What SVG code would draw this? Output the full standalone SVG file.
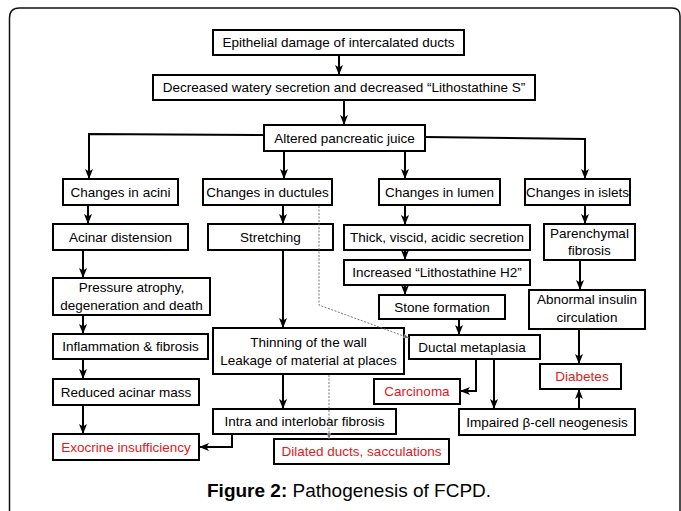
<svg xmlns="http://www.w3.org/2000/svg" width="681" height="511" viewBox="0 0 681 511">
<defs>
<style>
.b{fill:#fff;stroke:#000;stroke-width:2}
.t{font-family:"Liberation Sans",Arial,sans-serif;font-size:13.5px;fill:#000;text-anchor:middle}
.r{fill:#e0191e}
.c{fill:none;stroke:#000;stroke-width:2}
.d{fill:none;stroke:#777;stroke-width:1;stroke-dasharray:2 1.5}
.cap{font-family:"Liberation Sans",Arial,sans-serif;font-size:19px;fill:#000}
</style>
<marker id="ah" markerUnits="userSpaceOnUse" markerWidth="10" markerHeight="10" viewBox="0 0 10 10" refX="10" refY="5" orient="auto">
<path d="M0,1 L10,5 L0,9 L2.5,5 Z" fill="#000"/>
</marker>
<marker id="ag" markerUnits="userSpaceOnUse" markerWidth="6" markerHeight="6" viewBox="0 0 10 10" refX="10" refY="5" orient="auto">
<path d="M0,1 L10,5 L0,9 Z" fill="#777"/>
</marker>
</defs>
<rect width="681" height="511" fill="#fff"/>
<path d="M9.5,511 V18 Q9.5,8 19.5,8 H672 Q680,8 680,16 V511" fill="none" stroke="#111" stroke-width="1.5"/>

<g id="n1"><rect class="b" x="213" y="30" width="251" height="25"/><text class="t" x="338.5" y="47">Epithelial damage of intercalated ducts</text></g>
<g id="n2"><rect class="b" x="153" y="75" width="382" height="25"/><text class="t" x="344" y="92">Decreased watery secretion and decreased “Lithostathine S”</text></g>
<g id="n3"><rect class="b" x="264" y="125" width="161" height="26"/><text class="t" x="344.5" y="143">Altered pancreatic juice</text></g>
<g id="n4"><rect class="b" x="63" y="179" width="115" height="26"/><text class="t" x="120.5" y="197">Changes in acini</text></g>
<g id="n5"><rect class="b" x="203" y="179" width="129" height="26"/><text class="t" x="267.5" y="197">Changes in ductules</text></g>
<g id="n6"><rect class="b" x="379" y="179" width="121" height="26"/><text class="t" x="439.5" y="197">Changes in lumen</text></g>
<g id="n7"><rect class="b" x="525" y="179" width="105" height="26"/><text class="t" x="577.5" y="197">Changes in islets</text></g>
<g id="n8"><rect class="b" x="53" y="224" width="135" height="26"/><text class="t" x="120.5" y="242">Acinar distension</text></g>
<g id="n9"><rect class="b" x="208" y="224" width="125" height="26"/><text class="t" x="270.5" y="242">Stretching</text></g>
<g id="n10"><rect class="b" x="344" y="225" width="186" height="25"/><text class="t" x="437" y="242">Thick, viscid, acidic secretion</text></g>
<g id="n11"><rect class="b" x="544" y="224" width="91" height="36"/><text class="t" x="589.5" y="238">Parenchymal</text><text class="t" x="589.5" y="255">fibrosis</text></g>
<g id="n12"><rect class="b" x="53" y="278" width="157" height="37"/><text class="t" x="131.5" y="292">Pressure atrophy,</text><text class="t" x="131.5" y="310">degeneration and death</text></g>
<g id="n13"><rect class="b" x="344" y="260" width="186" height="25"/><text class="t" x="437" y="277">Increased “Lithostathine H2”</text></g>
<g id="n14"><rect class="b" x="379" y="295" width="126" height="24"/><text class="t" x="442" y="312">Stone formation</text></g>
<g id="n15"><rect class="b" x="529" y="290" width="116" height="39"/><text class="t" x="587" y="304">Abnormal insulin</text><text class="t" x="587" y="322">circulation</text></g>
<g id="n16"><rect class="b" x="53" y="334" width="155" height="25"/><text class="t" x="130.5" y="351">Inflammation &amp; fibrosis</text></g>
<g id="n17"><rect class="b" x="213" y="328" width="191" height="46"/><text class="t" x="308.5" y="347">Thinning of the wall</text><text class="t" x="308.5" y="365">Leakage of material at places</text></g>
<g id="n18"><rect class="b" x="409" y="335" width="131" height="24"/><text class="t" x="472" y="352">Ductal metaplasia</text></g>
<g id="n19"><rect class="b" x="540" y="364" width="81" height="25"/><text class="t r" x="582" y="381">Diabetes</text></g>
<g id="n20"><rect class="b" x="53" y="379" width="146" height="26"/><text class="t" x="126" y="397">Reduced acinar mass</text></g>
<g id="n21"><rect class="b" x="374" y="379" width="86" height="25"/><text class="t r" x="417" y="396">Carcinoma</text></g>
<g id="n22"><rect class="b" x="213" y="409" width="183" height="25"/><text class="t" x="304.5" y="426">Intra and interlobar fibrosis</text></g>
<g id="n23"><rect class="b" x="459" y="409" width="176" height="26"/><text class="t" x="547" y="427">Impaired β-cell neogenesis</text></g>
<g id="n24"><rect class="b" x="53" y="434" width="146" height="26"/><text class="t r" x="126" y="452">Exocrine insufficiency</text></g>
<g id="n25"><rect class="b" x="274" y="439" width="175" height="25"/><text class="t r" x="361.5" y="456">Dilated ducts, sacculations</text></g>

<g id="connectors">
<path class="c" d="M339,55 V75" marker-end="url(#ah)"/>
<path class="c" d="M344,100 V125" marker-end="url(#ah)"/>
<path class="c" d="M264,135 L89,134 V179" marker-end="url(#ah)"/>
<path class="c" d="M284,151 V179" marker-end="url(#ah)"/>
<path class="c" d="M405,151 V179" marker-end="url(#ah)"/>
<path class="c" d="M425,137 L585,139 V179" marker-end="url(#ah)"/>
<path class="c" d="M88,205 V224" marker-end="url(#ah)"/>
<path class="c" d="M283,205 V224" marker-end="url(#ah)"/>
<path class="c" d="M405,205 V225" marker-end="url(#ah)"/>
<path class="c" d="M585,205 V224" marker-end="url(#ah)"/>
<path class="c" d="M83,250 V278" marker-end="url(#ah)"/>
<path class="c" d="M283,250 V328" marker-end="url(#ah)"/>
<path class="c" d="M405,250 V260" marker-end="url(#ah)"/>
<path class="c" d="M580,260 V290" marker-end="url(#ah)"/>
<path class="c" d="M83,315 V334" marker-end="url(#ah)"/>
<path class="c" d="M405,285 V295" marker-end="url(#ah)"/>
<path class="c" d="M459,319 V335" marker-end="url(#ah)"/>
<path class="c" d="M579,329 V364" marker-end="url(#ah)"/>
<path class="c" d="M83,359 V379" marker-end="url(#ah)"/>
<path class="c" d="M83,405 V434" marker-end="url(#ah)"/>
<path class="c" d="M283,374 V409" marker-end="url(#ah)"/>
<path class="c" d="M476,359 V391 H460" marker-end="url(#ah)"/>
<path class="c" d="M494,359 V409" marker-end="url(#ah)"/>
<path class="c" d="M579,409 V389" marker-end="url(#ah)"/>
<path class="c" d="M232,434 V447 H199" marker-end="url(#ah)"/>
<path class="d" d="M319,206 V305 L409,338" marker-end="url(#ag)"/>
<path class="d" d="M329,375 V439" marker-end="url(#ag)"/>
</g>

<text class="cap" x="207" y="497"><tspan font-weight="bold">Figure 2:</tspan> Pathogenesis of FCPD.</text>
</svg>
